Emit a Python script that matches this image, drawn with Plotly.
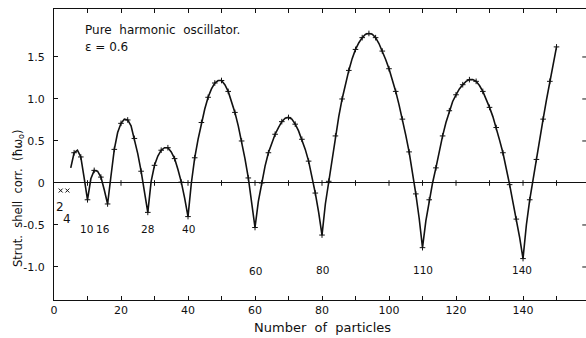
import plotly.graph_objects as go

# Structural shell correction vs. particle number (pure harmonic oscillator, eps = 0.6)
particles = list(range(5, 151))
shell_corr = [
    0.18, 0.36, 0.39, 0.31, 0.06, -0.20, 0.05, 0.15, 0.14, 0.07,      # 5-14
    -0.08, -0.25, 0.08, 0.40, 0.60, 0.71, 0.76, 0.75, 0.68, 0.53,     # 15-24
    0.35, 0.14, -0.10, -0.35, 0.02, 0.21, 0.32, 0.39, 0.42, 0.42,     # 25-34
    0.37, 0.29, 0.16, 0.01, -0.18, -0.40, 0.00, 0.30, 0.52, 0.72,     # 35-44
    0.88, 1.02, 1.12, 1.19, 1.22, 1.22, 1.17, 1.09, 0.97, 0.84,       # 45-54
    0.68, 0.50, 0.29, 0.06, -0.22, -0.53, -0.22, 0.00, 0.20, 0.36,    # 55-64
    0.48, 0.58, 0.66, 0.73, 0.77, 0.78, 0.76, 0.70, 0.62, 0.52,       # 65-74
    0.40, 0.26, 0.08, -0.12, -0.35, -0.62, -0.25, 0.02, 0.30, 0.56,   # 75-84
    0.79, 1.00, 1.18, 1.34, 1.48, 1.59, 1.67, 1.73, 1.77, 1.78,       # 85-94
    1.77, 1.73, 1.66, 1.57, 1.47, 1.36, 1.23, 1.09, 0.93, 0.76,       # 95-104
    0.57, 0.37, 0.13, -0.13, -0.42, -0.77, -0.45, -0.20, 0.00, 0.18,  # 105-114
    0.38, 0.56, 0.72, 0.86, 0.97, 1.05, 1.12, 1.17, 1.21, 1.23,       # 115-124
    1.23, 1.21, 1.16, 1.09, 1.00, 0.90, 0.79, 0.66, 0.51, 0.36,       # 125-134
    0.18, -0.02, -0.23, -0.43, -0.65, -0.90, -0.50, -0.20, 0.05, 0.28, # 135-144
    0.52, 0.76, 0.99, 1.21, 1.42, 1.62,                               # 145-150
]

# Lightest systems plotted as separate crosses
light_particles = [2, 4]
light_corr = [-0.09, -0.09]

# Magic numbers annotated under the minima
magic_numbers = [2, 4, 10, 16, 28, 40, 60, 80, 110, 140]

x_ticks = list(range(0, 160, 10))
x_ticktext = [str(v) if v % 20 == 0 else "" for v in x_ticks]
y_ticks = [-1.0, -0.5, 0, 0.5, 1.0, 1.5]
y_ticktext = ["-1.0", "-0.5", "0", "0.5", "1.0", "1.5"]

FONT = "DejaVu Sans"
INK = "#111111"

fig = go.Figure()

# smooth curve through all points
fig.add_trace(go.Scatter(
    x=particles, y=shell_corr, mode="lines",
    line=dict(color=INK, width=1.6),
    hoverinfo="skip", showlegend=False,
))

# small cross marks at even particle numbers
even_x = [n for n in particles if n % 2 == 0]
even_y = [v for n, v in zip(particles, shell_corr) if n % 2 == 0]
fig.add_trace(go.Scatter(
    x=even_x, y=even_y, mode="markers",
    marker=dict(symbol="cross-thin", size=4, line=dict(color=INK, width=1)),
    hoverinfo="skip", showlegend=False,
))

fig.add_trace(go.Scatter(
    x=light_particles, y=light_corr, mode="markers",
    marker=dict(symbol="x-thin", size=4, line=dict(color=INK, width=1)),
    hoverinfo="skip", showlegend=False,
))

# tick marks along the zero line
fig.add_trace(go.Scatter(
    x=x_ticks[1:], y=[0] * (len(x_ticks) - 1), mode="markers",
    marker=dict(symbol="line-ns", size=4, line=dict(color=INK, width=1)),
    hoverinfo="skip", showlegend=False,
))

# magic-number labels
label_pos = {
    2: (1.9, -0.29, 12), 4: (4.0, -0.43, 12),
    10: (9.8, -0.55, 10.5), 16: (14.7, -0.55, 10.5), 28: (27.9, -0.55, 10.5), 40: (40.0, -0.55, 10.5),
    60: (60.1, -1.05, 10.5), 80: (80.0, -1.03, 10.5), 110: (110.2, -1.03, 10.5), 140: (139.8, -1.03, 10.5),
}
for m in magic_numbers:
    lx, ly, fs = label_pos[m]
    fig.add_annotation(x=lx, y=ly, text=str(m), showarrow=False,
                       font=dict(family=FONT, size=fs, color=INK),
                       xanchor="center", yanchor="middle")

fig.add_annotation(x=8.7, y=1.82, text="Pure  harmonic  oscillator.", showarrow=False,
                   xanchor="left", yanchor="middle",
                   font=dict(family=FONT, size=12, color=INK))
fig.add_annotation(x=8.7, y=1.62, text="\u03b5 = 0.6", showarrow=False,
                   xanchor="left", yanchor="middle",
                   font=dict(family=FONT, size=12, color=INK))

# axis titles
fig.add_annotation(xref="paper", yref="paper", x=0.505, y=-0.095,
                   text="Number  of  particles", showarrow=False,
                   xanchor="center", yanchor="middle",
                   font=dict(family=FONT, size=13, color=INK))
fig.add_annotation(xref="paper", yref="paper", x=-0.068, y=0.35,
                   text="Strut.  shell  corr.  (\u0127\u03c9<sub>o</sub>)", showarrow=False,
                   textangle=-90, xanchor="center", yanchor="middle",
                   font=dict(family=FONT, size=11.5, color=INK))

# inward ticks on the right edge
for yv in y_ticks:
    if yv == 0:
        continue
    fig.add_shape(type="line", xref="paper", yref="y", x0=0.993, x1=1.0, y0=yv, y1=yv,
                  line=dict(color=INK, width=1))

fig.update_layout(
    width=586, height=338,
    margin=dict(l=54, r=0, t=9, b=38),
    paper_bgcolor="white", plot_bgcolor="white",
    font=dict(family=FONT, size=11, color=INK),
    showlegend=False,
)
fig.update_xaxes(
    range=[0, 158.8], tickvals=x_ticks, ticktext=x_ticktext,
    ticks="inside", ticklen=4, tickwidth=1, tickcolor=INK,
    showline=True, linecolor=INK, linewidth=1.3, mirror="ticks",
    showgrid=False, zeroline=False,
    tickfont=dict(family=FONT, size=11, color=INK),
)
fig.update_yaxes(
    range=[-1.393, 2.071], tickvals=y_ticks, ticktext=y_ticktext,
    ticks="inside", ticklen=4, tickwidth=1, tickcolor=INK,
    showline=True, linecolor=INK, linewidth=1.3, mirror=False,
    showgrid=False, zeroline=True, zerolinecolor=INK, zerolinewidth=1,
    ticklabelstandoff=6,
    tickfont=dict(family=FONT, size=11, color=INK),
)

fig.write_html("out.html")
